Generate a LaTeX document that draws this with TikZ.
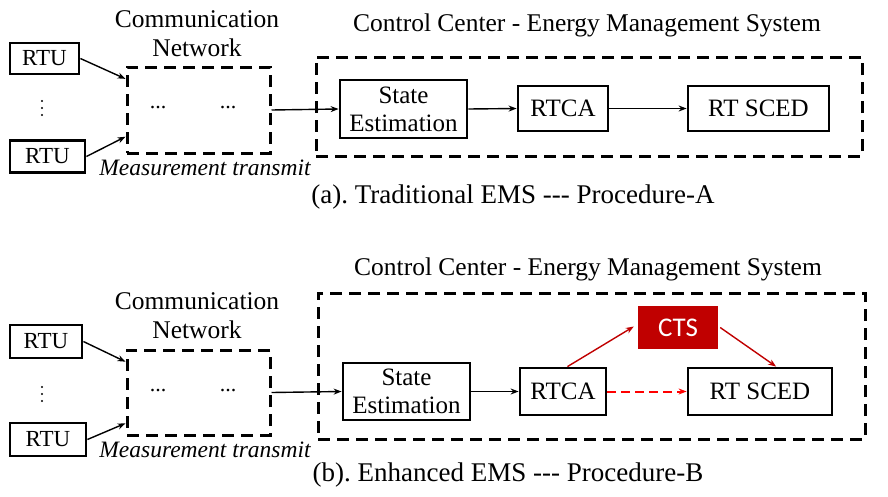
\documentclass[tikz,border=0pt]{standalone}
\usepackage{fontspec}
\setmainfont{LiberationSerif}[Extension=.ttf, UprightFont=*-Regular, ItalicFont=*-Italic, BoldFont=*-Bold, BoldItalicFont=*-BoldItalic, Ligatures=NoCommon]
\newfontfamily\ctsfont{Carlito}
\usetikzlibrary{arrows.meta,calc}
\definecolor{ctsred}{RGB}{192,0,0}
\frenchspacing
\begin{document}
\begin{tikzpicture}[x=1pt,y=-1pt,
  box/.style={draw, line width=2.8pt, rectangle, inner sep=0pt, align=center, font=\fontsize{25}{28}\selectfont},
  rtubox/.style={box, font=\fontsize{23}{25}\selectfont},
  dbox/.style={draw, line width=3pt, dash pattern=on 12pt off 7pt, rectangle, inner sep=0pt},
  lbl/.style={font=\fontsize{25.5}{29}\selectfont, align=center, inner sep=0pt},
  caplbl/.style={font=\fontsize{27}{30}\selectfont, inner sep=0pt},
  itlbl/.style={font=\fontsize{23.5}{26}\selectfont\itshape, inner sep=0pt},
  dotlbl/.style={font=\fontsize{22}{24}\selectfont, inner sep=0pt},
  vdot/.style={fill=black, circle, inner sep=0pt, minimum size=2.3pt},
  arr/.style={-{Stealth[length=8pt,width=6pt]}, line width=1.4pt},
  rarr/.style={arr, draw=ctsred},
  rdarr/.style={-{Stealth[length=8pt,width=6pt]}, line width=2pt, draw=red, dash pattern=on 9pt off 5pt},
  ctsbox/.style={fill=ctsred, text=white, inner sep=0pt, font=\fontsize{27}{30}\ctsfont}]
\useasboundingbox (0,0) rectangle (888,496);

% ---------- (a) ----------
\node[rtubox, minimum width=69pt, minimum height=31pt] (rtu1a) at (44.5,58.5) {RTU};
\node[rtubox, minimum width=75pt, minimum height=32pt] (rtu2a) at (47.5,156.5) {RTU};
\node[vdot] (va1) at (42,101) {};
\node[vdot] (va2) at (42,108) {};
\node[vdot] (va3) at (42,115) {};
\node[dbox, minimum width=143pt, minimum height=86pt] (comma) at (198.5,110) {};
\node[lbl] (commtxta) at (197,34) {Communication\\Network};
\node[dotlbl] (d1a) at (158,108) {...};
\node[dotlbl] (d2a) at (228,108) {...};
\node[itlbl] (meas_a) at (205,168) {Measurement transmit};
\node[dbox, minimum width=546pt, minimum height=99pt] (cca) at (589,106.5) {};
\node[lbl] (titlea) at (587,25) {Control Center - Energy Management System};
\node[box, minimum width=127pt, minimum height=58pt] (sea) at (403.5,109) {State\\Estimation};
\node[box, minimum width=90pt, minimum height=45pt] (rtcaa) at (563,108.5) {RTCA};
\node[box, minimum width=141pt, minimum height=45pt] (sceda) at (758.5,108.5) {RT SCED};
\node[caplbl] (capa) at (513,197) {(a). Traditional EMS {-}{-}{-} Procedure-A};

\draw[arr] (rtu1a.east) -- ($(comma.north west)!0.15!(comma.south west)$);
\draw[arr] (rtu2a.east) -- ($(comma.north west)!0.80!(comma.south west)$);
\draw[arr] (comma.east) -- (sea.west);
\draw[arr] (sea.east) -- (rtcaa.west);
\draw[arr] (rtcaa.east) -- (sceda.west);

% ---------- (b) ----------
\node[rtubox, minimum width=72pt, minimum height=33pt] (rtu1b) at (46,341.5) {RTU};
\node[rtubox, minimum width=76pt, minimum height=33pt] (rtu2b) at (48,439.5) {RTU};
\node[vdot] (vb1) at (42,387) {};
\node[vdot] (vb2) at (42,394) {};
\node[vdot] (vb3) at (42,401) {};
\node[dbox, minimum width=143pt, minimum height=85pt] (commb) at (198.5,392.5) {};
\node[lbl] (commtxtb) at (197,316) {Communication\\Network};
\node[dotlbl] (d1b) at (158,391) {...};
\node[dotlbl] (d2b) at (228,391) {...};
\node[itlbl] (meas_b) at (205,450) {Measurement transmit};
\node[dbox, minimum width=547pt, minimum height=146pt] (ccb) at (591.5,366) {};
\node[lbl] (titleb) at (588,269) {Control Center - Energy Management System};
\node[box, minimum width=127pt, minimum height=57pt] (seb) at (406.5,391.5) {State\\Estimation};
\node[box, minimum width=86pt, minimum height=47pt] (rtcab) at (563,391.5) {RTCA};
\node[box, minimum width=144pt, minimum height=47pt] (scedb) at (760,391.5) {RT SCED};
\node[ctsbox, minimum width=80pt, minimum height=43pt] (cts) at (678,327.5) {CTS};
\node[caplbl] (capb) at (508,475) {(b). Enhanced EMS {-}{-}{-} Procedure-B};

\draw[arr] (rtu1b.east) -- ($(commb.north west)!0.15!(commb.south west)$);
\draw[arr] (rtu2b.east) -- ($(commb.north west)!0.85!(commb.south west)$);
\draw[arr] (commb.east) -- (seb.west);
\draw[arr] (seb.east) -- (rtcab.west);
\draw[rarr] ($(rtcab.north west)!0.55!(rtcab.north east)$) -- ($(cts.west)+(-4,-1)$);
\draw[rarr] ($(cts.east)+(2,0)$) -- ($(scedb.north west)!0.61!(scedb.north east)$);
\draw[rdarr] (rtcab.east) -- (scedb.west);
\end{tikzpicture}
\end{document}
